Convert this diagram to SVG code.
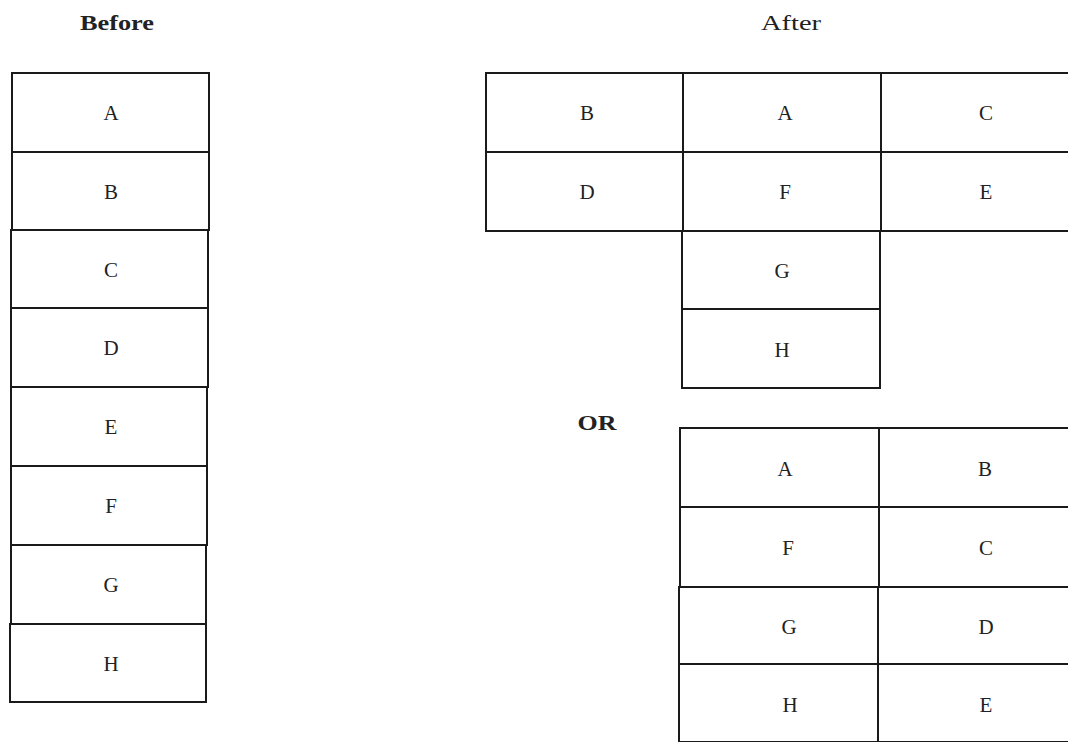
<svg xmlns="http://www.w3.org/2000/svg" width="1068" height="742" viewBox="0 0 1068 742">
<style>
.c{fill:#fff;stroke:#1a1a1a;stroke-width:2}
.t{font-family:"Liberation Serif","DejaVu Serif",serif;font-size:21px;fill:#222;text-anchor:middle;dominant-baseline:central}
.h{font-family:"Liberation Serif","DejaVu Serif",serif;font-size:22px;fill:#222;text-anchor:middle}
</style>
<rect width="1068" height="742" fill="#fff"/>
<text class="h" x="117" y="30" font-weight="bold" textLength="74" lengthAdjust="spacingAndGlyphs">Before</text>
<text class="h" x="791" y="30" textLength="60" lengthAdjust="spacingAndGlyphs">After</text>
<text class="h" x="597" y="430" font-weight="bold" textLength="39" lengthAdjust="spacingAndGlyphs">OR</text>
<g id="before">
<g id="b-A"><rect class="c" x="12" y="73" width="197" height="79"/><text class="t" x="111" y="113">A</text></g>
<g id="b-B"><rect class="c" x="12" y="152" width="197" height="78"/><text class="t" x="111" y="192">B</text></g>
<g id="b-C"><rect class="c" x="11" y="230" width="197" height="78"/><text class="t" x="111" y="270">C</text></g>
<g id="b-D"><rect class="c" x="11" y="308" width="197" height="79"/><text class="t" x="111" y="348">D</text></g>
<g id="b-E"><rect class="c" x="11" y="387" width="196" height="79"/><text class="t" x="111" y="427">E</text></g>
<g id="b-F"><rect class="c" x="11" y="466" width="196" height="79"/><text class="t" x="111" y="506">F</text></g>
<g id="b-G"><rect class="c" x="11" y="545" width="195" height="79"/><text class="t" x="111" y="585">G</text></g>
<g id="b-H"><rect class="c" x="10" y="624" width="196" height="78"/><text class="t" x="111" y="664">H</text></g>
</g>
<g id="after1">
<g id="a1-B"><rect class="c" x="486" y="73" width="197" height="79"/><text class="t" x="587" y="113">B</text></g>
<g id="a1-A"><rect class="c" x="683" y="73" width="198" height="79"/><text class="t" x="785" y="113">A</text></g>
<g id="a1-C"><rect class="c" x="881" y="73" width="198" height="79"/><text class="t" x="986" y="113">C</text></g>
<g id="a1-D"><rect class="c" x="486" y="152" width="197" height="79"/><text class="t" x="587" y="192">D</text></g>
<g id="a1-F"><rect class="c" x="683" y="152" width="198" height="79"/><text class="t" x="785" y="192">F</text></g>
<g id="a1-E"><rect class="c" x="881" y="152" width="198" height="79"/><text class="t" x="986" y="192">E</text></g>
<g id="a1-G"><rect class="c" x="682" y="231" width="198" height="78"/><text class="t" x="782" y="271">G</text></g>
<g id="a1-H"><rect class="c" x="682" y="309" width="198" height="79"/><text class="t" x="782" y="350">H</text></g>
</g>
<g id="after2">
<g id="a2-A"><rect class="c" x="680" y="428" width="199" height="79"/><text class="t" x="785" y="469">A</text></g>
<g id="a2-B"><rect class="c" x="879" y="428" width="200" height="79"/><text class="t" x="985" y="469">B</text></g>
<g id="a2-F"><rect class="c" x="680" y="507" width="199" height="80"/><text class="t" x="788" y="548">F</text></g>
<g id="a2-C"><rect class="c" x="879" y="507" width="200" height="80"/><text class="t" x="986" y="548">C</text></g>
<g id="a2-G"><rect class="c" x="679" y="587" width="199" height="77"/><text class="t" x="789" y="627">G</text></g>
<g id="a2-D"><rect class="c" x="878" y="587" width="201" height="77"/><text class="t" x="986" y="627">D</text></g>
<g id="a2-H"><rect class="c" x="679" y="664" width="199" height="78"/><text class="t" x="790" y="705">H</text></g>
<g id="a2-E"><rect class="c" x="878" y="664" width="201" height="78"/><text class="t" x="986" y="705">E</text></g>
</g>
<g id="connectors"/>
</svg>
